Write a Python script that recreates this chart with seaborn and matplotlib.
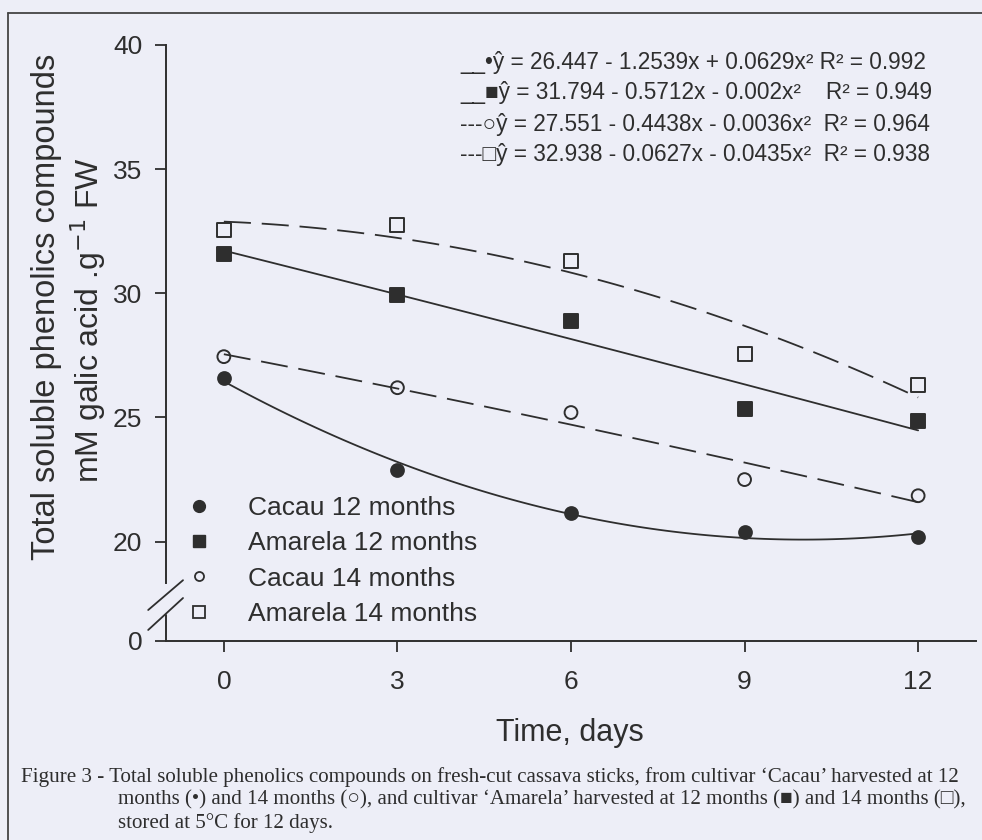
import numpy as np
import pandas as pd
import matplotlib.pyplot as plt
from matplotlib.lines import Line2D
import seaborn as sns

# dias de armazenamento e valores (mM ácido gálico / g FW)
days = [0, 3, 6, 9, 12]
cacau_12 = [26.6, 22.9, 21.15, 20.4, 20.2]
amarela_12 = [31.6, 29.95, 28.9, 25.35, 24.85]
cacau_14 = [27.45, 26.2, 25.2, 22.5, 21.85]
amarela_14 = [32.55, 32.75, 31.3, 27.55, 26.3]

series_names = ["Cacau 12 months", "Amarela 12 months", "Cacau 14 months", "Amarela 14 months"]
equations = [
    "__•ŷ = 26.447 - 1.2539x + 0.0629x² R² = 0.992",
    "__■ŷ = 31.794 - 0.5712x - 0.002x²    R² = 0.949",
    "---○ŷ = 27.551 - 0.4438x - 0.0036x²  R² = 0.964",
    "---□ŷ = 32.938 - 0.0627x - 0.0435x²  R² = 0.938",
]
ytick_vals = [16, 20, 25, 30, 35, 40]
ytick_labels = ["0", "20", "25", "30", "35", "40"]
xtick_vals = [0, 3, 6, 9, 12]

caption = [
    "Figure 3 - Total soluble phenolics compounds on fresh-cut cassava sticks, from cultivar \u2018Cacau\u2019 harvested at 12",
    "months (\u2022) and 14 months (\u25cb), and cultivar \u2018Amarela\u2019 harvested at 12 months (\u25a0) and 14 months (\u25a1),",
    "stored at 5\u00b0C for 12 days.",
]

BG = "#edeef7"
INK = "#2e2e2e"
W, H = 982, 840

sns.set_theme(style="ticks")
plt.rcParams["font.family"] = ["Liberation Sans", "DejaVu Sans"]
plt.rcParams["text.color"] = INK
plt.rcParams["axes.edgecolor"] = INK
plt.rcParams["xtick.color"] = INK
plt.rcParams["ytick.color"] = INK

df = pd.DataFrame({
    "day": days * 4,
    "value": cacau_12 + amarela_12 + cacau_14 + amarela_14,
    "serie": np.repeat(series_names, len(days)),
})

fig = plt.figure(figsize=(W / 100, H / 100), dpi=100, facecolor=BG)
ax = fig.add_axes([166 / W, 1 - 641 / H, 810 / W, 596 / H])
ax.set_facecolor(BG)

styles = {
    "Cacau 12 months":   dict(marker="o", s=85,  fc=INK,    ls="-"),
    "Amarela 12 months": dict(marker="s", s=105, fc=INK,    ls="-"),
    "Cacau 14 months":   dict(marker="o", s=85,  fc="none", ls=(0, (15, 6))),
    "Amarela 14 months": dict(marker="s", s=100, fc="none", ls=(0, (15, 6))),
}

for name in series_names:
    st = styles[name]
    sub = df[df["serie"] == name]
    sns.regplot(data=sub, x="day", y="value", order=2, ci=None, scatter=False,
                ax=ax, color=INK, truncate=True,
                line_kws=dict(lw=1.3, linestyle=st["ls"], zorder=2))
    ax.scatter(sub["day"], sub["value"], marker=st["marker"], s=st["s"],
               facecolors=st["fc"], edgecolors=INK, linewidths=1.4, zorder=3)

ax.set_xlim(-1, 13)
ax.set_ylim(16, 40)
ax.set_xticks(xtick_vals)
ax.set_yticks(ytick_vals, ytick_labels)
ax.tick_params(axis="both", labelsize=19, width=1.3, length=8)
ax.tick_params(axis="x", pad=13)
ax.tick_params(axis="y", pad=9)
ax.set_xlabel("")
ax.set_ylabel("")
sns.despine(ax=ax)
for sp in ["left", "bottom"]:
    ax.spines[sp].set_linewidth(1.4)

# quebra do eixo y
ax.spines["left"].set_bounds(18.35, 40)
ax.plot([-1, -1], [16, 17.05], color=INK, lw=1.4, clip_on=False, zorder=4)
for y0, y1 in [(0.052, 0.102), (0.0185, 0.0721)]:
    ax.plot([-0.022, 0.021], [y0, y1], transform=ax.transAxes, color=INK,
            lw=1.3, clip_on=False)

handles = [
    Line2D([], [], ls="none", marker="o", ms=8.5, mfc=INK, mec=INK),
    Line2D([], [], ls="none", marker="s", ms=9, mfc=INK, mec=INK),
    Line2D([], [], ls="none", marker="o", ms=6.5, mfc="none", mec=INK, mew=1.3),
    Line2D([], [], ls="none", marker="s", ms=9, mfc="none", mec=INK, mew=1.3),
]
fig.legend(handles, series_names, loc="upper left",
           bbox_to_anchor=(186 / W, 1 - 496 / H), frameon=False, fontsize=19,
           handlelength=1.0, handletextpad=1.35, labelspacing=0.43,
           borderpad=0, borderaxespad=0)

for i, eq in enumerate(equations):
    fig.text(460 / W, 1 - (62 + 31 * i) / H, eq, fontsize=16.3, va="center", ha="left")

fig.text(47 / W, 1 - 307 / H, "Total soluble phenolics compounds", rotation=90,
         fontsize=23.5, ha="center", va="center")
fig.text(88 / W, 1 - 320 / H, "mM galic acid .g$^{-1}$ FW", rotation=90,
         fontsize=23, ha="center", va="center")
fig.text(570 / W, 1 - 733 / H, "Time, days", fontsize=22, ha="center", va="center")

serif = ["Liberation Serif", "DejaVu Serif", "DejaVu Sans"]
fig.text(21 / W, 1 - 777 / H, caption[0], fontsize=15.1, family=serif, va="center")
fig.text(118 / W, 1 - 800 / H, caption[1], fontsize=15.1, family=serif, va="center")
fig.text(118 / W, 1 - 823 / H, caption[2], fontsize=15.1, family=serif, va="center")

# moldura da figura
fig.add_artist(Line2D([8 / W, 1], [1 - 13 / H, 1 - 13 / H], color="#444444", lw=1.3))
fig.add_artist(Line2D([8 / W, 8 / W], [1 - 13 / H, 0], color="#444444", lw=1.3))

fig.savefig("out.png", dpi=100, facecolor=BG)
